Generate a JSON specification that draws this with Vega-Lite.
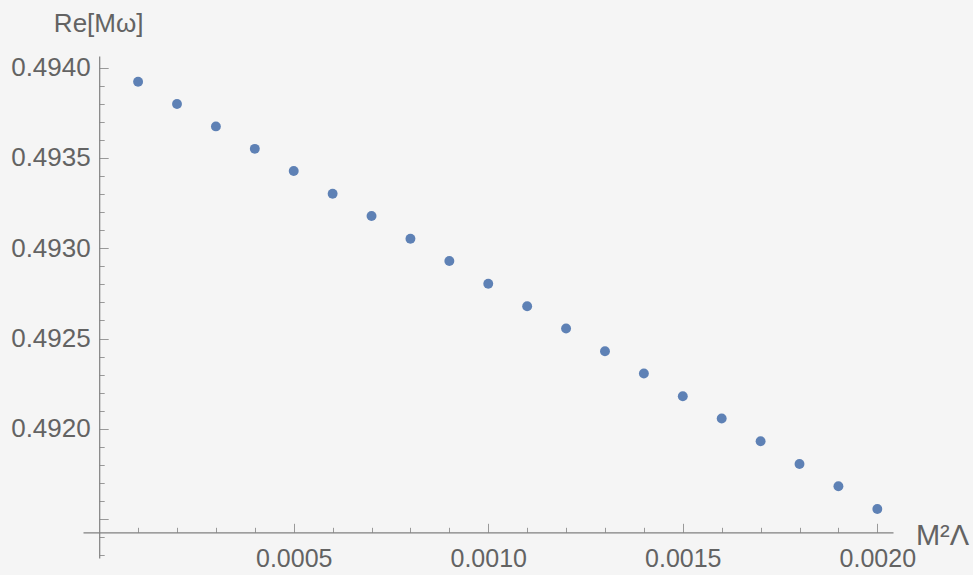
{
  "$schema": "https://vega.github.io/schema/vega-lite/v6.json",
  "width": 810,
  "height": 502,
  "autosize": "none",
  "padding": {"left": 83, "top": 56, "right": 80, "bottom": 17},
  "background": "#f5f5f5",
  "config": {
    "view": {"stroke": null},
    "axis": {
      "labelFont": "Liberation Sans",
      "titleFont": "Liberation Sans",
      "labelColor": "#636363",
      "titleColor": "#636363",
      "domainColor": "#808080",
      "tickColor": "#999999",
      "grid": false
    }
  },
  "data": {
    "values": [
      {"x": 0.0001, "y": 0.493921},
      {"x": 0.0002, "y": 0.493798},
      {"x": 0.0003, "y": 0.493674},
      {"x": 0.0004, "y": 0.493550},
      {"x": 0.0005, "y": 0.493427},
      {"x": 0.0006, "y": 0.493301},
      {"x": 0.0007, "y": 0.493178},
      {"x": 0.0008, "y": 0.493052},
      {"x": 0.0009, "y": 0.492929},
      {"x": 0.0010, "y": 0.492803},
      {"x": 0.0011, "y": 0.492679},
      {"x": 0.0012, "y": 0.492556},
      {"x": 0.0013, "y": 0.492430},
      {"x": 0.0014, "y": 0.492307},
      {"x": 0.0015, "y": 0.492181},
      {"x": 0.0016, "y": 0.492058},
      {"x": 0.0017, "y": 0.491932},
      {"x": 0.0018, "y": 0.491806},
      {"x": 0.0019, "y": 0.491683},
      {"x": 0.0020, "y": 0.491557}
    ]
  },
  "mark": {"type": "point", "filled": true, "opacity": 1, "size": 98, "color": "#5e81b5"},
  "encoding": {
    "x": {
      "field": "x",
      "type": "quantitative",
      "scale": {"domain": [-0.0000416, 0.0020403], "nice": false, "zero": false},
      "axis": {
        "orient": "bottom",
        "offset": -25.7,
        "values": [0.0001,0.0002,0.0003,0.0004,0.0005,0.0006,0.0007,0.0008,0.0009,0.0010,0.0011,0.0012,0.0013,0.0014,0.0015,0.0016,0.0017,0.0018,0.0019,0.0020],
        "tickSize": {"condition": {"test": "abs(datum.value/0.0005 - round(datum.value/0.0005)) < 0.01", "value": -9}, "value": -5},
        "labelExpr": "abs(datum.value/0.0005 - round(datum.value/0.0005)) < 0.01 ? format(datum.value, '.4f') : ''",
        "labelFontSize": 25,
        "labelPadding": 23,
        "labelBaseline": "top",
        "labelFlush": false,
        "labelOverlap": false,
        "domainWidth": 1.2,
        "tickWidth": 1,
        "title": "M²Λ",
        "titleFontSize": 29,
        "titleFontWeight": "normal",
        "titleAlign": "center",
        "titleBaseline": "alphabetic",
        "titleX": 859,
        "titleY": 12
      }
    },
    "y": {
      "field": "y",
      "type": "quantitative",
      "scale": {"domain": [0.4912857, 0.4940637], "nice": false, "zero": false},
      "axis": {
        "orient": "left",
        "offset": -16.2,
        "values": [0.4913,0.4914,0.4915,0.4916,0.4917,0.4918,0.4919,0.4920,0.4921,0.4922,0.4923,0.4924,0.4925,0.4926,0.4927,0.4928,0.4929,0.4930,0.4931,0.4932,0.4933,0.4934,0.4935,0.4936,0.4937,0.4938,0.4939,0.4940],
        "tickSize": {"condition": {"test": "abs(datum.value/0.0005 - round(datum.value/0.0005)) < 0.01", "value": -9}, "value": -5},
        "labelExpr": "abs(datum.value/0.0005 - round(datum.value/0.0005)) < 0.01 && datum.value > 0.4917 ? format(datum.value, '.4f') : ''",
        "labelFontSize": 26,
        "labelPadding": 18,
        "labelFlush": false,
        "labelOverlap": false,
        "domainWidth": 1.2,
        "tickWidth": 1,
        "title": "Re[Mω]",
        "titleFontSize": 26,
        "titleFontWeight": "normal",
        "titleAngle": 0,
        "titleAlign": "center",
        "titleBaseline": "alphabetic",
        "titleX": -1,
        "titleY": -25
      }
    }
  }
}
